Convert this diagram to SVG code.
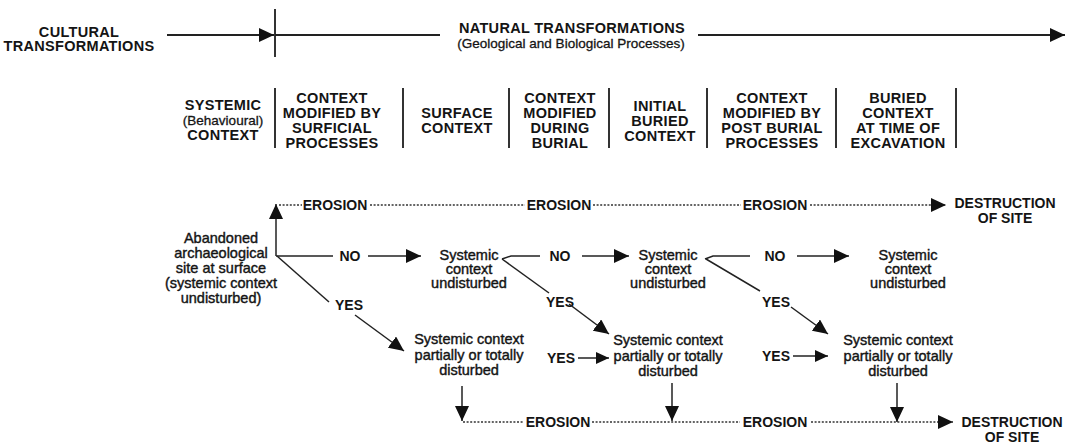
<svg xmlns="http://www.w3.org/2000/svg" width="1067" height="443" viewBox="0 0 1067 443">
  <style>
    .hdr { font-family: "Liberation Sans", Arial, sans-serif; font-weight: bold; font-size: 14.5px; letter-spacing: 0.3px; fill: #141414; text-anchor: middle; }
    .sub { font-family: "Liberation Sans", Arial, sans-serif; font-size: 13.5px; fill: #141414; stroke: #141414; stroke-width: 0.3; text-anchor: middle; }
    .lbl { font-family: "Liberation Sans", Arial, sans-serif; font-size: 14.5px; fill: #141414; stroke: #141414; stroke-width: 0.4; text-anchor: middle; }
    .tag { font-family: "Liberation Sans", Arial, sans-serif; font-weight: bold; font-size: 14px; fill: #141414; text-anchor: middle; }
    .main { stroke: #222; stroke-width: 2; fill: none; }
    .sep { stroke: #333; stroke-width: 2; fill: none; }
    .link { stroke: #222; stroke-width: 1.5; fill: none; }
    .dot { stroke: #333; stroke-width: 1.3; stroke-dasharray: 2 1.6; fill: none; }
  </style>
  <defs>
    <marker id="head" markerUnits="userSpaceOnUse" markerWidth="16" markerHeight="14" refX="15" refY="7" orient="auto">
      <path d="M0,0 L15,7 L0,14 z" fill="#111"/>
    </marker>
    <marker id="headSm" markerUnits="userSpaceOnUse" markerWidth="14" markerHeight="12" refX="13" refY="6" orient="auto">
      <path d="M0,0 L13,6 L0,12 z" fill="#111"/>
    </marker>
  </defs>
  <rect width="1067" height="443" fill="#fff"/>

  <!-- timeline banner -->
  <g id="banner">
    <text class="hdr" x="79" y="37">CULTURAL</text>
    <text class="hdr" x="79" y="51">TRANSFORMATIONS</text>
    <text class="hdr" x="572" y="33">NATURAL TRANSFORMATIONS</text>
    <text class="sub" x="571" y="48">(Geological and Biological Processes)</text>
  </g>

  <!-- context columns -->
  <g id="columns">
    <g id="col-systemic">
      <text class="hdr" x="223" y="110">SYSTEMIC</text>
      <text class="sub" x="223" y="125">(Behavioural)</text>
      <text class="hdr" x="223" y="140">CONTEXT</text>
    </g>
    <g id="col-surficial">
      <text class="hdr" x="332" y="103">CONTEXT</text>
      <text class="hdr" x="332" y="118">MODIFIED BY</text>
      <text class="hdr" x="332" y="133">SURFICIAL</text>
      <text class="hdr" x="332" y="148">PROCESSES</text>
    </g>
    <g id="col-surface">
      <text class="hdr" x="457" y="118">SURFACE</text>
      <text class="hdr" x="457" y="133">CONTEXT</text>
    </g>
    <g id="col-burial">
      <text class="hdr" x="560" y="103">CONTEXT</text>
      <text class="hdr" x="560" y="118">MODIFIED</text>
      <text class="hdr" x="560" y="133">DURING</text>
      <text class="hdr" x="560" y="148">BURIAL</text>
    </g>
    <g id="col-initial">
      <text class="hdr" x="660" y="111">INITIAL</text>
      <text class="hdr" x="660" y="126">BURIED</text>
      <text class="hdr" x="660" y="141">CONTEXT</text>
    </g>
    <g id="col-postburial">
      <text class="hdr" x="772" y="103">CONTEXT</text>
      <text class="hdr" x="772" y="118">MODIFIED BY</text>
      <text class="hdr" x="772" y="133">POST BURIAL</text>
      <text class="hdr" x="772" y="148">PROCESSES</text>
    </g>
    <g id="col-excavation">
      <text class="hdr" x="898" y="103">BURIED</text>
      <text class="hdr" x="898" y="118">CONTEXT</text>
      <text class="hdr" x="898" y="133">AT TIME OF</text>
      <text class="hdr" x="898" y="148">EXCAVATION</text>
    </g>
    <g id="separators">
      <line class="sep" x1="275" y1="88" x2="275" y2="148"/>
      <line class="sep" x1="403" y1="88" x2="403" y2="148"/>
      <line class="sep" x1="509" y1="88" x2="509" y2="148"/>
      <line class="sep" x1="609" y1="88" x2="609" y2="148"/>
      <line class="sep" x1="707" y1="88" x2="707" y2="148"/>
      <line class="sep" x1="836" y1="88" x2="836" y2="148"/>
      <line class="sep" x1="956" y1="88" x2="956" y2="148"/>
    </g>
  </g>

  <!-- flow nodes -->
  <g id="site">
    <text class="lbl" x="221" y="243">Abandoned</text>
    <text class="lbl" x="221" y="258">archaeological</text>
    <text class="lbl" x="221" y="273">site at surface</text>
    <text class="lbl" x="221" y="288">(systemic context</text>
    <text class="lbl" x="221" y="303">undisturbed)</text>
  </g>
  <g id="undisturbed-1">
    <text class="lbl" x="469" y="260">Systemic</text>
    <text class="lbl" x="469" y="274">context</text>
    <text class="lbl" x="469" y="288">undisturbed</text>
  </g>
  <g id="undisturbed-2">
    <text class="lbl" x="668" y="260">Systemic</text>
    <text class="lbl" x="668" y="274">context</text>
    <text class="lbl" x="668" y="288">undisturbed</text>
  </g>
  <g id="undisturbed-3">
    <text class="lbl" x="908" y="260">Systemic</text>
    <text class="lbl" x="908" y="274">context</text>
    <text class="lbl" x="908" y="288">undisturbed</text>
  </g>
  <g id="disturbed-1">
    <text class="lbl" x="469" y="344">Systemic context</text>
    <text class="lbl" x="469" y="360">partially or totally</text>
    <text class="lbl" x="469" y="375">disturbed</text>
  </g>
  <g id="disturbed-2">
    <text class="lbl" x="668" y="345">Systemic context</text>
    <text class="lbl" x="668" y="361">partially or totally</text>
    <text class="lbl" x="668" y="376">disturbed</text>
  </g>
  <g id="disturbed-3">
    <text class="lbl" x="898" y="345">Systemic context</text>
    <text class="lbl" x="898" y="361">partially or totally</text>
    <text class="lbl" x="898" y="376">disturbed</text>
  </g>
  <g id="destruction-top">
    <text class="tag" x="1005" y="208">DESTRUCTION</text>
    <text class="tag" x="1005" y="223">OF SITE</text>
  </g>
  <g id="destruction-bottom">
    <text class="tag" x="1012" y="427">DESTRUCTION</text>
    <text class="tag" x="1012" y="442">OF SITE</text>
  </g>

  <!-- connectors -->
  <g id="connectors">
    <!-- timeline -->
    <line class="main" x1="167" y1="35" x2="274" y2="35" marker-end="url(#head)"/>
    <line class="sep" x1="275" y1="9" x2="275" y2="57"/>
    <line class="main" x1="275" y1="35" x2="440" y2="35"/>
    <line class="main" x1="698" y1="35" x2="1065" y2="35" marker-end="url(#head)"/>

    <!-- erosion from the surface site -->
    <line class="link" x1="276" y1="256" x2="276" y2="204" marker-end="url(#head)"/>
    <line class="dot" x1="279" y1="205" x2="302" y2="205"/>
    <text class="tag" x="335" y="210">EROSION</text>
    <line class="dot" x1="370" y1="205" x2="525" y2="205"/>
    <text class="tag" x="559" y="210">EROSION</text>
    <line class="dot" x1="593" y1="205" x2="741" y2="205"/>
    <text class="tag" x="775" y="210">EROSION</text>
    <line class="dot" x1="810" y1="205" x2="946" y2="205" marker-end="url(#head)"/>

    <!-- NO branches -->
    <line class="link" x1="276" y1="256" x2="333" y2="256"/>
    <text class="tag" x="350" y="261">NO</text>
    <line class="link" x1="368" y1="256" x2="421" y2="256" marker-end="url(#head)"/>

    <polyline class="link" points="502,259 511,256 540,256"/>
    <text class="tag" x="560" y="261">NO</text>
    <line class="link" x1="582" y1="256" x2="629" y2="256" marker-end="url(#head)"/>

    <polyline class="link" points="705,259 713,256 750,256"/>
    <text class="tag" x="775" y="261">NO</text>
    <line class="link" x1="797" y1="256" x2="849" y2="256" marker-end="url(#head)"/>

    <!-- YES branches -->
    <line class="link" x1="277" y1="256" x2="329" y2="302"/>
    <text class="tag" x="349" y="310">YES</text>
    <line class="link" x1="355" y1="315" x2="404" y2="351" marker-end="url(#head)"/>

    <line class="link" x1="502" y1="259" x2="549" y2="293"/>
    <text class="tag" x="560" y="307">YES</text>
    <line class="link" x1="569" y1="304" x2="609" y2="334" marker-end="url(#head)"/>

    <line class="link" x1="706" y1="259" x2="760" y2="291"/>
    <text class="tag" x="776" y="307">YES</text>
    <line class="link" x1="791" y1="307" x2="828" y2="334" marker-end="url(#head)"/>

    <text class="tag" x="561" y="363">YES</text>
    <line class="link" x1="578" y1="358" x2="609" y2="358" marker-end="url(#headSm)"/>
    <text class="tag" x="776" y="361">YES</text>
    <line class="link" x1="793" y1="356" x2="828" y2="356" marker-end="url(#headSm)"/>

    <!-- disturbed contexts fall to erosion -->
    <line class="link" x1="462" y1="386" x2="462" y2="421" marker-end="url(#head)"/>
    <line class="link" x1="672" y1="383" x2="672" y2="421" marker-end="url(#head)"/>
    <line class="link" x1="897" y1="383" x2="897" y2="422" marker-end="url(#head)"/>
    <line class="dot" x1="463" y1="422" x2="524" y2="422"/>
    <text class="tag" x="558" y="427">EROSION</text>
    <line class="dot" x1="592" y1="422" x2="740" y2="422"/>
    <text class="tag" x="775" y="427">EROSION</text>
    <line class="dot" x1="811" y1="422" x2="953" y2="422" marker-end="url(#head)"/>
  </g>
</svg>
